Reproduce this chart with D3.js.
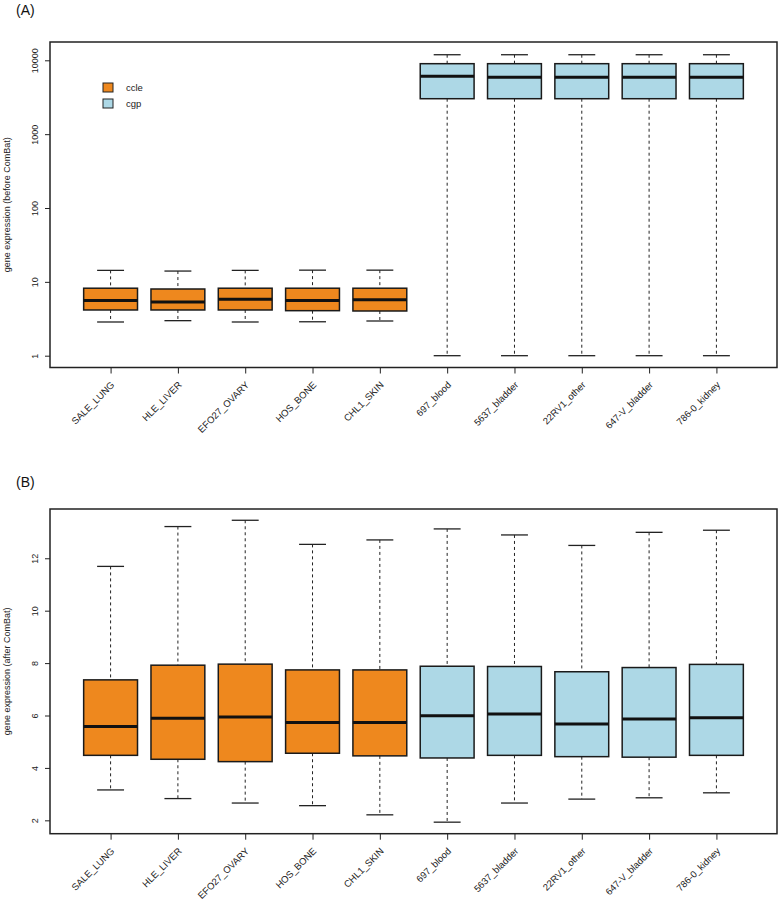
<!DOCTYPE html>
<html>
<head>
<meta charset="utf-8">
<script src="https://cdn.jsdelivr.net/npm/d3@7"></script>
<style>
    body { margin: 0; background: #ffffff; }
    svg { font-family: "Liberation Sans", Arial, sans-serif; }
</style>
</head>
<body>
<div class="Chart"></div>
<script>

const cell_lines = ["SALE_LUNG", "HLE_LIVER", "EFO27_OVARY", "HOS_BONE", "CHL1_SKIN",
    "697_blood", "5637_bladder", "22RV1_other", "647-V_bladder", "786-0_kidney"];
const source = ["ccle", "ccle", "ccle", "ccle", "ccle", "cgp", "cgp", "cgp", "cgp", "cgp"];

// box statistics before ComBat: [lower whisker, q1, median, q3, upper whisker]
const before_lower = [2.86, 2.98, 2.86, 2.88, 2.95, 1, 1, 1, 1, 1];
const before_q1 = [4.16, 4.16, 4.16, 4.07, 4.03, 3020, 3020, 3020, 3020, 3020];
const before_median = [5.6, 5.33, 5.8, 5.6, 5.7, 6070, 5890, 5890, 5890, 5890];
const before_q3 = [8.2, 8.0, 8.2, 8.2, 8.2, 9000, 9000, 9000, 9000, 9000];
const before_upper = [14.3, 14.0, 14.3, 14.4, 14.4, 11900, 11900, 11900, 11900, 11900];

// box statistics after ComBat
const after_lower = [3.16, 2.83, 2.66, 2.56, 2.21, 1.93, 2.66, 2.81, 2.86, 3.05];
const after_q1 = [4.48, 4.33, 4.24, 4.56, 4.46, 4.38, 4.48, 4.43, 4.41, 4.48];
const after_median = [5.58, 5.90, 5.94, 5.73, 5.73, 5.99, 6.06, 5.68, 5.87, 5.91];
const after_q3 = [7.36, 7.92, 7.96, 7.74, 7.74, 7.88, 7.87, 7.67, 7.83, 7.95];
const after_upper = [11.69, 13.21, 13.45, 12.53, 12.70, 13.12, 12.89, 12.49, 12.99, 13.07];

const ticks_before = [1, 10, 100, 1000, 10000];
const ticks_after = [2, 4, 6, 8, 10, 12];

const legend_labels = ["ccle", "cgp"];
const colors = {ccle: "#ee881e", cgp: "#add8e6"};

const width = 778;
const height = 900;

const svg = d3.select(".Chart")
    .append("svg")
    .attr("width", width)
    .attr("height", height);

const build_rows = (lower, q1, median, q3, upper) => cell_lines.map((name, i) => ({
    name: name,
    index: i + 1,
    group: source[i],
    lower: lower[i],
    q1: q1[i],
    median: median[i],
    q3: q3[i],
    upper: upper[i]
}));

const draw_panel = function (options) {

    const {top, bottom, left, right, y, ticks, rows, letter, label} = options;

    const x = d3.scaleLinear().domain([0.1, 10.9]).range([left, right]);
    const box_half = (x(1.4) - x(1));
    const cap_half = (x(1.2) - x(1));

    const g = svg.append("g");

    // panel letter
    g.append("text")
        .attr("x", 16)
        .attr("y", top - (letter === "(A)" ? 27 : 22))
        .attr("font-size", 14)
        .attr("fill", "#111")
        .text(letter);

    // y axis
    const y_axis = d3.axisLeft(y)
        .tickValues(ticks)
        .tickSize(5)
        .tickFormat(d => String(d));
    const y_g = g.append("g")
        .attr("transform", `translate(${left},0)`)
        .call(y_axis);
    y_g.select(".domain")
        .attr("d", `M${left - left},${y(ticks[0])}V${y(ticks[ticks.length - 1])}`)
        .attr("stroke", "none");
    y_g.selectAll(".tick line").attr("stroke", "#222");
    y_g.selectAll(".tick text")
        .attr("font-size", 9)
        .attr("fill", "#222")
        .attr("x", null)
        .attr("dy", null)
        .attr("text-anchor", "middle")
        .attr("transform", "translate(-12,0) rotate(-90)");

    // x axis
    const x_axis = d3.axisBottom(x)
        .tickValues(rows.map(d => d.index))
        .tickSize(6)
        .tickFormat((d, i) => rows[i].name);
    const x_g = g.append("g")
        .attr("transform", `translate(0,${bottom})`)
        .call(x_axis);
    x_g.select(".domain").attr("stroke", "none");
    x_g.selectAll(".tick line").attr("stroke", "#222");
    x_g.selectAll(".tick text")
        .attr("font-size", 9.5)
        .attr("fill", "#222")
        .attr("y", null)
        .attr("dy", null)
        .attr("text-anchor", "end")
        .attr("transform", "translate(4,18) rotate(-45)");

    // axis label
    g.append("text")
        .attr("transform", `translate(10,${(top + bottom) / 2}) rotate(-90)`)
        .attr("text-anchor", "middle")
        .attr("font-size", 9)
        .attr("fill", "#222")
        .text(label);

    const boxes = g.selectAll(".Box")
        .data(rows)
        .join("g")
        .attr("class", "Box");

    // dashed whiskers
    boxes.append("line")
        .attr("x1", d => x(d.index)).attr("x2", d => x(d.index))
        .attr("y1", d => y(d.upper)).attr("y2", d => y(d.q3))
        .attr("stroke", "#222").attr("stroke-dasharray", "3,3");
    boxes.append("line")
        .attr("x1", d => x(d.index)).attr("x2", d => x(d.index))
        .attr("y1", d => y(d.q1)).attr("y2", d => y(d.lower))
        .attr("stroke", "#222").attr("stroke-dasharray", "3,3");

    // caps
    boxes.selectAll(".Cap")
        .data(d => [{i: d.index, v: d.upper}, {i: d.index, v: d.lower}])
        .join("line")
        .attr("class", "Cap")
        .attr("x1", d => x(d.i) - cap_half)
        .attr("x2", d => x(d.i) + cap_half)
        .attr("y1", d => y(d.v))
        .attr("y2", d => y(d.v))
        .attr("stroke", "#222")
        .attr("stroke-width", 1.3);

    // boxes
    boxes.append("rect")
        .attr("x", d => x(d.index) - box_half)
        .attr("y", d => y(d.q3))
        .attr("width", box_half * 2)
        .attr("height", d => y(d.q1) - y(d.q3))
        .attr("fill", d => colors[d.group])
        .attr("stroke", "#1a1a1a")
        .attr("stroke-width", 1.5);

    // medians
    boxes.append("line")
        .attr("x1", d => x(d.index) - box_half)
        .attr("x2", d => x(d.index) + box_half)
        .attr("y1", d => y(d.median))
        .attr("y2", d => y(d.median))
        .attr("stroke", "#111")
        .attr("stroke-width", 3);

    // frame
    g.append("rect")
        .attr("x", left)
        .attr("y", top)
        .attr("width", right - left)
        .attr("height", bottom - top)
        .attr("fill", "none")
        .attr("stroke", "#222")
        .attr("stroke-width", 1.5);

    return g;
};

// (A) log scale, before ComBat
const top_a = 42;
const bottom_a = 367.5;
const y_a = d3.scaleLog()
    .domain([0.692, 17700])
    .range([bottom_a, top_a]);

const panel_a = draw_panel({
    top: top_a,
    bottom: bottom_a,
    left: 50,
    right: 777,
    y: y_a,
    ticks: ticks_before,
    rows: build_rows(before_lower, before_q1, before_median, before_q3, before_upper),
    letter: "(A)",
    label: "gene expression (before ComBat)"
});

// legend
const legend = panel_a.selectAll(".Legend")
    .data(legend_labels)
    .join("g")
    .attr("class", "Legend")
    .attr("transform", (d, i) => `translate(103,${83 + i * 16})`);
legend.append("rect")
    .attr("width", 10)
    .attr("height", 9)
    .attr("fill", d => colors[d])
    .attr("stroke", "#222")
    .attr("stroke-width", 1);
legend.append("text")
    .attr("x", 23)
    .attr("y", 8)
    .attr("font-size", 9.5)
    .attr("fill", "#222")
    .text(d => d);

// (B) linear scale, after ComBat
const top_b = 509;
const bottom_b = 833.7;
const y_b = d3.scaleLinear()
    .domain([1.49, 13.88])
    .range([bottom_b, top_b]);

draw_panel({
    top: top_b,
    bottom: bottom_b,
    left: 50,
    right: 777,
    y: y_b,
    ticks: ticks_after,
    rows: build_rows(after_lower, after_q1, after_median, after_q3, after_upper),
    letter: "(B)",
    label: "gene expression (after ComBat)"
});

</script>
</body>
</html>
